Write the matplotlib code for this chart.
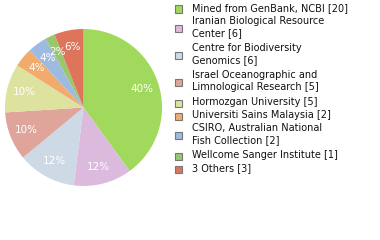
import matplotlib
matplotlib.use('Agg')
import matplotlib.pyplot as plt
from matplotlib.patches import Rectangle

# Dados
labels = ['Mined from GenBank, NCBI [20]',
          'Iranian Biological Resource\nCenter [6]',
          'Centre for Biodiversity\nGenomics [6]',
          'Israel Oceanographic and\nLimnological Research [5]',
          'Hormozgan University [5]',
          'Universiti Sains Malaysia [2]',
          'CSIRO, Australian National\nFish Collection [2]',
          'Wellcome Sanger Institute [1]',
          '3 Others [3]']
counts = [20, 6, 6, 5, 5, 2, 2, 1, 3]
colors = ['#a0d95b', '#dcbade', '#cddae5', '#dfa59b', '#dde29e',
          '#f0ab6d', '#9dbbe0', '#9ac66f', '#de7459']

fig = plt.figure(figsize=(3.8, 2.4), dpi=100)

# Pizza
ax = fig.add_axes([5/380, 1 - 186/240, 157/380, 157/240])
wedges, texts, autotexts = ax.pie(counts, colors=colors, startangle=90, counterclock=False,
                                  autopct=lambda p: f'{p:.0f}%', pctdistance=0.78,
                                  wedgeprops=dict(linewidth=0),
                                  textprops=dict(color='white', fontsize=7.5))
ax.set_xlim(-1, 1)
ax.set_ylim(-1, 1)
ax.set_aspect('equal')

# Legenda manual
y = 8
for lab, col in zip(labels, colors):
    lines = lab.split('\n')
    yc = y + (len(lines) - 1) * 6 + 1
    fig.patches.append(Rectangle((175/380, 1 - (yc + 3.5)/240), 7/380, 7/240,
                                 transform=fig.transFigure, facecolor=col,
                                 edgecolor='#777777', linewidth=0.8))
    for i, ln in enumerate(lines):
        fig.text(192/380, 1 - (y + 12 * i)/240, ln, fontsize=7, va='center', ha='left',
                 color='#111111')
    y += 13 if len(lines) == 1 else 27

fig.savefig('out.png', dpi=100)
